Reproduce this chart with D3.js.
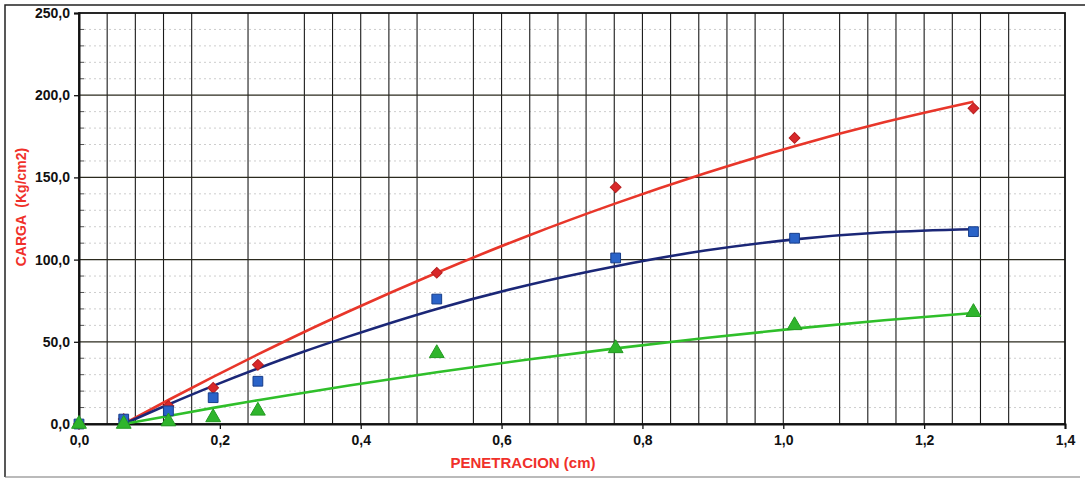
<!DOCTYPE html>
<html><head><meta charset="utf-8">
<script src="https://cdn.jsdelivr.net/npm/d3@7"></script>
<style>html,body{margin:0;padding:0;background:#fff;}svg{display:block;}</style>
</head><body>
<svg id="c" width="1085" height="479"></svg>
<script>
// ---- data ----
const penetration = [0, 0.0635, 0.127, 0.1905, 0.254, 0.508, 0.762, 1.016, 1.27];
const redPoints   = [0, 3, 11, 22, 36, 92, 144, 174, 192];
const bluePoints  = [0, 3, 8, 16, 26, 76, 101, 113, 117];
const greenPoints = [0, 0, 1.5, 4, 8, 43, 46, 60, 68];
const trendX      = [0.0635, 0.127, 0.1905, 0.254, 0.3175, 0.381, 0.508, 0.635, 0.762, 0.889, 1.016, 1.143, 1.27];
const redTrend    = [0, 14.6, 28.7, 42.3, 55.5, 68.1, 92, 114.1, 134.2, 152.5, 169, 183.5, 196];
const blueTrend   = [0, 11.9, 23.2, 33.8, 43.8, 53, 70, 84.3, 96, 105.5, 112.3, 116.6, 118.5];
const greenTrend  = [0, 4.9, 9.8, 14.5, 18.9, 23.3, 31.5, 39.1, 46, 52.3, 58, 63.1, 67.5];
const xTicks = [0, 0.2, 0.4, 0.6, 0.8, 1.0, 1.2, 1.4];
const yTicks = [0, 50, 100, 150, 200, 250];
const yMinor = [10,20,30,40,60,70,80,90,110,120,130,140,160,170,180,190,210,220,230,240];
const xGrid  = [0.04,0.08,0.12,0.16,0.24,0.32,0.36,0.40,0.44,0.48,0.56,0.60,0.64,0.68,0.72,0.76,0.80,0.84,0.88,0.92,0.96,1.00,1.08,1.12,1.16,1.20,1.24,1.28,1.32];
const xTitle = "PENETRACION (cm)";
const yTitle = "CARGA  (Kg/cm2)";

// ---- drawing ----
const svg = d3.select("#c");
const x = d3.scaleLinear().domain([0, 1.4]).range([79, 1065]);
const y = d3.scaleLinear().domain([0, 250]).range([424, 13]);
const fmt = d => d3.format(".1f")(d).replace(".", ",");
const font = "'Liberation Sans', Arial, sans-serif";

// outer frame
svg.append("path").attr("d", "M5,477 L5,5 L1085,5").attr("fill","none").attr("stroke","#222").attr("stroke-width",1.5);
svg.append("line").attr("x1",5).attr("x2",1080).attr("y1",477).attr("y2",477).attr("stroke","#777").attr("stroke-width",1.2);

// minor dotted horizontal grid
svg.append("g").selectAll("line").data(yMinor).join("line")
  .attr("x1", x(0)).attr("x2", x(1.4)).attr("y1", d=>y(d)).attr("y2", d=>y(d))
  .attr("stroke", "#cdcdcd").attr("stroke-width", 1).attr("stroke-dasharray", "2,3");
// minor inner ticks on y
svg.append("g").selectAll("line").data(yMinor).join("line")
  .attr("x1", x(0)).attr("x2", x(0)+5).attr("y1", d=>y(d)).attr("y2", d=>y(d))
  .attr("stroke", "#555").attr("stroke-width", 1);
// vertical grid
svg.append("g").selectAll("line").data(xGrid).join("line")
  .attr("x1", d=>x(d)).attr("x2", d=>x(d)).attr("y1", y(0)).attr("y2", y(250))
  .attr("stroke", "#1a1a1a").attr("stroke-width", 1.1);
// major horizontal grid
svg.append("g").selectAll("line").data(yTicks.slice(1,-1)).join("line")
  .attr("x1", x(0)).attr("x2", x(1.4)).attr("y1", d=>y(d)).attr("y2", d=>y(d))
  .attr("stroke", "#2b2a1e").attr("stroke-width", 1.3);

// plot frame
svg.append("rect").attr("x", x(0)).attr("y", y(250)).attr("width", x(1.4)-x(0)).attr("height", y(0)-y(250))
  .attr("fill","none").attr("stroke","#111").attr("stroke-width",1.8);

// axes
const xAxis = svg.append("g").attr("transform", `translate(0,${y(0)})`)
  .call(d3.axisBottom(x).tickValues(xTicks).tickFormat(fmt).tickSize(5).tickPadding(6));
const yAxis = svg.append("g").attr("transform", `translate(${x(0)},0)`)
  .call(d3.axisLeft(y).tickValues(yTicks).tickFormat(fmt).tickSize(5).tickPadding(4));
[xAxis, yAxis].forEach(a => {
  a.select(".domain").attr("stroke","#111").attr("stroke-width",2);
  a.selectAll(".tick line").attr("stroke","#111").attr("stroke-width",1.3);
  a.selectAll("text").attr("font-family", font).attr("font-weight","bold").attr("font-size",14).attr("fill","#111");
});

// titles
svg.append("text").attr("x", 523).attr("y", 468).attr("text-anchor","middle")
  .attr("font-family", font).attr("font-weight","bold").attr("font-size",15).attr("fill","#f0302a").text(xTitle);
svg.append("text").attr("transform","translate(26,207) rotate(-90)").attr("text-anchor","middle")
  .style("white-space","pre")
  .attr("font-family", font).attr("font-weight","bold").attr("font-size",14).attr("fill","#f0302a").text(yTitle);

// trend lines
const line = d3.line().x(d=>x(d[0])).y(d=>y(d[1])).curve(d3.curveMonotoneX);
const series = [
  {trend: redTrend, pts: redPoints, line: "#e8362a", fill: "#d8282a", stroke: "#b82020", sym: d3.symbolSquare, size: 58, rot: 45},
  {trend: blueTrend, pts: bluePoints, line: "#1b2777", fill: "#2a63c8", stroke: "#173d8a", sym: d3.symbolSquare, size: 95, rot: 0},
  {trend: greenTrend, pts: greenPoints, line: "#2fbf2a", fill: "#2fb52c", stroke: "#249a22", sym: d3.symbolTriangle, size: 95, rot: 0}
];
series.forEach(s => {
  svg.append("path").datum(trendX.map((t,i)=>[t, s.trend[i]]))
    .attr("d", line).attr("fill","none").attr("stroke", s.line).attr("stroke-width", 2.6);
});
series.forEach(s => {
  svg.append("g").selectAll("path").data(penetration.map((p,i)=>[p, s.pts[i]])).join("path")
    .attr("transform", d=>`translate(${x(d[0])},${y(d[1])}) rotate(${s.rot})`)
    .attr("d", d3.symbol().type(s.sym).size(s.size))
    .attr("fill", s.fill).attr("stroke", s.stroke).attr("stroke-width", 1);
});
</script>
</body></html>
